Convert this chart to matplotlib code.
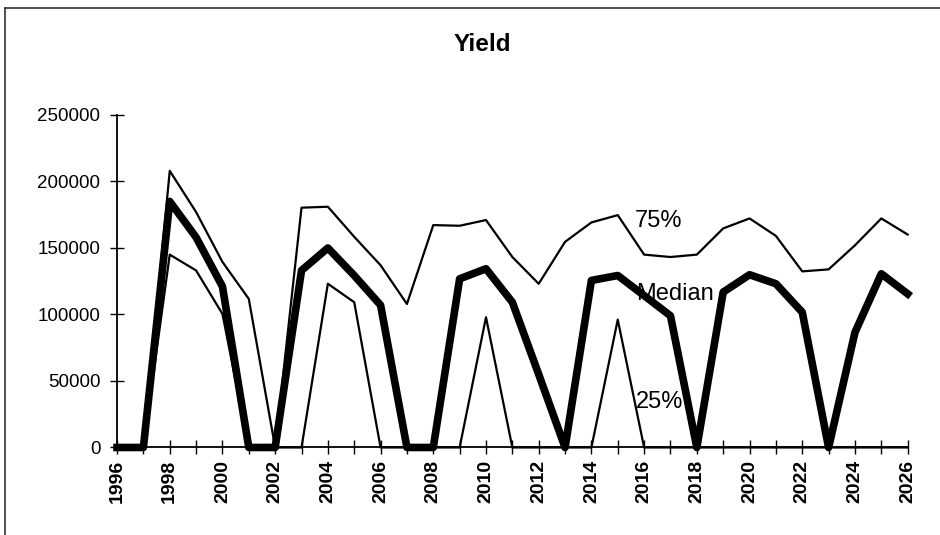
import numpy as np
import matplotlib
matplotlib.use("Agg")
import matplotlib.pyplot as plt
from matplotlib.lines import Line2D

plt.rcParams["font.family"] = ["Liberation Sans", "DejaVu Sans"]

## yield percentiles per year
years = np.arange(1996, 2027)
p75 = [0, 0, 208000, 177000, 139500, 111700, 0, 180300, 181000, 158400,
       137000, 107900, 167200, 166700, 171000, 143200, 123100, 154600, 169200, 174700,
       145000, 143200, 145000, 164700, 172200, 159100, 132400, 133900, 152000, 172200,
       160100]
median = [0, 0, 185000, 158000, 121000, 0, 0, 133100, 150000, 129300,
          107000, 0, 0, 126800, 134400, 109200, 55000, 0, 125600, 129300,
          114200, 99000, 0, 116800, 129900, 123100, 101700, 0, 86500, 130600,
          115500]
p25 = [0, 0, 145000, 133100, 100400, 0, 0, 0, 123100, 109200,
       0, 0, 0, 0, 97900, 0, 0, 0, 0, 96100,
       0, 0, 0, 0, 0, 0, 0, 0, 0, 0,
       0]

## PLOT
fig = plt.figure(figsize=(9.4, 5.35), dpi=100)
ax = fig.add_axes([0.1245, 0.1636, 0.8411, 0.6215])

ax.plot(years, p75, color="k", lw=1.6, clip_on=False)
ax.plot(years, p25, color="k", lw=1.6, clip_on=False)
ax.plot(years, median, color="k", lw=5.5, clip_on=False, solid_joinstyle="round")

# line labels
ax.text(2015.65, 170500, "75%", fontsize=17, va="center", ha="left")
ax.text(2015.7, 115500, "Median", fontsize=17, va="center", ha="left")
ax.text(2015.7, 34500, "25%", fontsize=17, va="center", ha="left")

ax.set_xlim(1996, 2026)
ax.set_ylim(0, 250000)
ax.set_xticks(years)
ax.set_xticklabels([str(y) if y % 2 == 0 else "" for y in years], rotation=90,
                   fontsize=14, fontweight="bold")
ax.set_yticks(np.arange(0, 250001, 50000))
ax.set_yticklabels([str(v) for v in range(0, 250001, 50000)], fontsize=13.5)
ax.tick_params(direction="inout", length=10, width=1, pad=4)
ax.tick_params(axis="y", pad=7)

for s in ["top", "right"]:
    ax.spines[s].set_visible(False)
for s in ["left", "bottom"]:
    ax.spines[s].set_linewidth(1.3)

fig.text(0.513, 0.916, "Yield", fontsize=17.5, fontweight="bold", ha="center", va="center")

# outer frame (top and left edges)
fig.add_artist(Line2D([5/940, 1.0], [1 - 8/535, 1 - 8/535], color="#333333", lw=1.2,
                      transform=fig.transFigure))
fig.add_artist(Line2D([5/940, 5/940], [0, 1 - 8/535], color="#333333", lw=1.2,
                      transform=fig.transFigure))

plt.savefig("out.png", dpi=100)
plt.close(fig)
